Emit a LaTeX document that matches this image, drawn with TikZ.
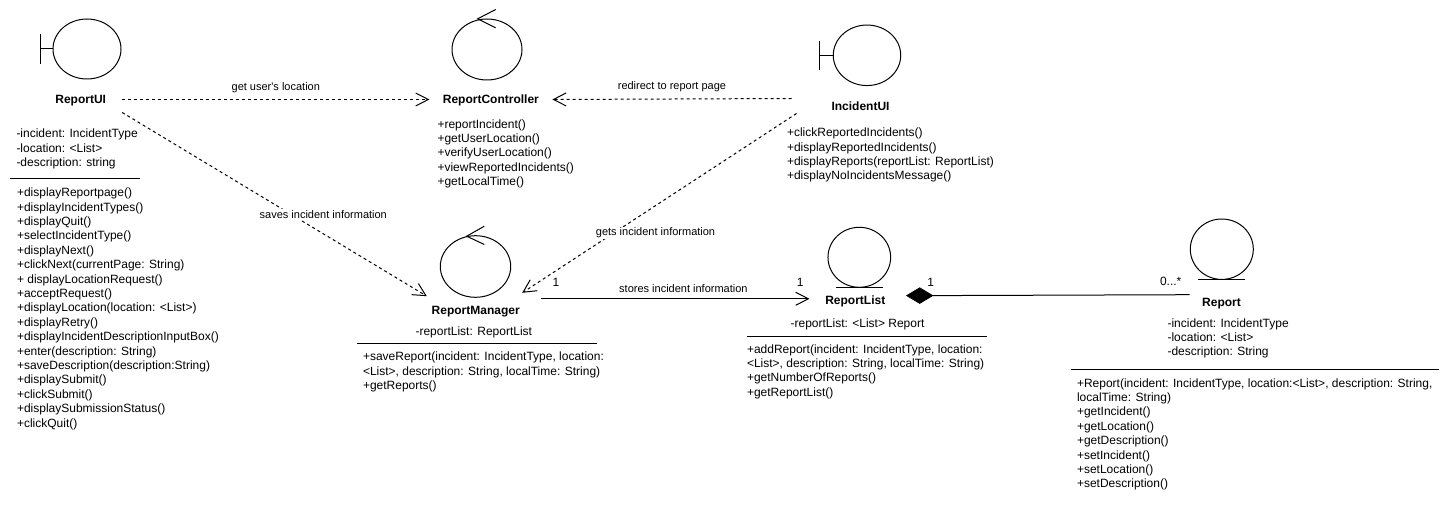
\documentclass[tikz,border=0pt]{standalone}
\usepackage{fontspec}
\setmainfont{Liberation Sans}[Ligatures=TeXOff]
\usetikzlibrary{arrows.meta}
\usetikzlibrary{shapes.geometric}

\begin{document}
\begin{tikzpicture}[
        x=0.75pt,
        y=-0.75pt,
        line width=0.75pt,
        >={Straight Barb[length=9.5pt,width=9.75pt]},
        icon/.style={draw,ellipse,inner sep=0pt},
        classname/.style={font=\fontsize{9}{10.8}\selectfont\bfseries,inner sep=0pt,text height=8pt,text depth=1.6pt},
        members/.style={font=\fontsize{9}{10.8}\selectfont,align=left,anchor=north west,inner sep=0pt},
        linklabel/.style={font=\fontsize{8.25}{10}\selectfont,inner sep=1pt},
        multiplicity/.style={font=\fontsize{9}{10.8}\selectfont,inner sep=0pt},
        dep/.style={->,dashed,dash pattern=on 2.25pt off 2.25pt}
    ]
    \useasboundingbox (0,0) rectangle (1451,513);

    % Nodes for the five classes on top
    \node[icon,minimum width=51pt,minimum height=45pt] (uiIcon) at (87,49) {};
    \node[classname,minimum width=61.5pt,minimum height=18.75pt] (ReportUI) at (80.7,99.5) {ReportUI};
    \node[icon,minimum width=52.5pt,minimum height=45.75pt] (ctrlIcon) at (487,49.5) {};
    \node[classname,minimum width=91.5pt] (ReportController) at (490.9,99.5) {ReportController};
    \node[icon,minimum width=50.6pt,minimum height=45.4pt] (incidentIcon) at (867,55.3) {};
    \node[classname,minimum width=102.75pt,minimum height=10.5pt] (IncidentUI) at (860.5,106) {IncidentUI};

    % Nodes for the classes below
    \node[icon,minimum width=52.8pt,minimum height=46.2pt] (mgrIcon) at (475.5,266.5) {};
    \node[classname,minimum width=97.5pt,minimum height=16.5pt] (ReportManager) at (475.7,310.3) {ReportManager};
    \node[icon,minimum width=47pt,minimum height=45pt] (listIcon) at (859.3,257.3) {};
    \node[classname,minimum width=68pt] (ReportList) at (855.3,300.7) {ReportList};
    \node[icon,minimum width=47.25pt,minimum height=45.3pt] (reportIcon) at (1221.8,249.2) {};
    \node[classname,minimum width=47.25pt,minimum height=11.25pt] (Report) at (1221.5,302.7) {Report};

    % Boundary marks
    \draw (uiIcon.west) -- ++(-12.5,0) ++(0,-15) -- ++(0,30);
    \draw (incidentIcon.west) -- ++(-12.9,0) ++(0,-14.7) -- ++(0,29.4);

    % Control marks
    \draw (ctrlIcon.north) ++(8.7,-9) -- ++(-18,9.3) -- ++(18,9);
    \draw (mgrIcon.north) ++(8.8,-9) -- ++(-17.6,10) -- ++(17.6,8.3);

    % Entity marks
    \draw (listIcon.south) ++(-23.3,0) -- ++(46.6,0);
    \draw (reportIcon.south) ++(-23.6,0) -- ++(47,0);

    % ReportUI members
    \node[members] (uiAttrs) at (16,128.5) {-incident: IncidentType\\-location: <List>\\-description: string};
    \draw (10.3,178.7) coordinate (uiRuleL) -- (140.3,178.7) coordinate (uiRuleR);
    \node[members] (uiOps) at (16.5,187.5) {+displayReportpage()\\+displayIncidentTypes()\\+displayQuit()\\+selectIncidentType()\\+displayNext()\\+clickNext(currentPage: String)\\+ displayLocationRequest()\\+acceptRequest()\\+displayLocation(location: <List>)\\+displayRetry()\\+displayIncidentDescriptionInputBox()\\+enter(description: String)\\+saveDescription(description:String)\\+displaySubmit()\\+clickSubmit()\\+displaySubmissionStatus()\\+clickQuit()};

    % ReportController and IncidentUI members
    \node[members] (ctrlOps) at (437,119) {+reportIncident()\\+getUserLocation()\\+verifyUserLocation()\\+viewReportedIncidents()\\+getLocalTime()};
    \node[members] (incidentOps) at (786.5,127.5) {+clickReportedIncidents()\\+displayReportedIncidents()\\+displayReports(reportList: ReportList)\\+displayNoIncidentsMessage()};

    % ReportManager members
    \node[font=\fontsize{9}{10.8}\selectfont,inner sep=0pt] (mgrAttrs) at (473.8,332) {-reportList: ReportList};
    \draw (356.7,343.3) coordinate (mgrRuleL) -- (597,343.3) coordinate (mgrRuleR);
    \node[members] (mgrOps) at (362.5,351.5) {+saveReport(incident: IncidentType, location:\\<List>, description: String, localTime: String)\\+getReports()};

    % ReportList members
    \node[font=\fontsize{9}{10.8}\selectfont,inner sep=0pt] (listAttrs) at (857.5,324) {-reportList: <List> Report};
    \draw (747.3,336) coordinate (listRuleL) -- (987.3,336) coordinate (listRuleR);
    \node[members] (listOps) at (746.5,344) {+addReport(incident: IncidentType, location:\\<List>, description: String, localTime: String)\\+getNumberOfReports()\\+getReportList()};

    % Report members
    \node[members] (reportAttrs) at (1167,318) {-incident: IncidentType\\-location: <List>\\-description: String};
    \draw (1070.7,369.3) coordinate (reportRuleL) -- (1439,369.3) coordinate (reportRuleR);
    \node[members] (reportOps) at (1076.5,378) {+Report(incident: IncidentType, location:<List>, description: String,\\localTime: String)\\+getIncident()\\+getLocation()\\+getDescription()\\+setIncident()\\+setLocation()\\+setDescription()};

    % Dashed links
    \draw[dep] (ReportUI.east) -- (ReportController.west)
        node[linklabel,pos=0.5,above=4pt] (lblLocation) {get user's location};
    \draw[dep] (IncidentUI.north west) -- (ReportController.east)
        node[linklabel,pos=0.5,above=4pt] (lblRedirect) {redirect to report page};
    \draw[dep] (ReportUI.south east) -- ([shift={(16.6,-2.6)}]ReportManager.north west);
    \draw[dep] ([xshift=3.75pt]IncidentUI.south west) -- ([shift={(-19,-6)}]ReportManager.north east);
    \node[linklabel,fill=white] (lblSaves) at (323.3,214.3) {saves incident information};
    \node[linklabel,fill=white] (lblGets) at (655.5,233) {gets incident information};

    % Solid link with its numbers
    \draw[->] (ReportManager.north east) -- (ReportList.west |- ReportManager.north east)
        node[linklabel,pos=0.53,above=3pt] (lblStores) {stores incident information};
    \node[multiplicity] (numMgr) at (556,282) {1};
    \node[multiplicity] (numList) at (800.3,282) {1};

    % Composition
    \node[draw,fill=black,diamond,aspect=1.66,inner sep=0pt,minimum width=19.5pt,minimum height=11.8pt] (whole) at (919.7,295.6) {};
    \draw (whole.east) -- (Report.north west);
    \node[multiplicity] (numWhole) at (930.7,282) {1};
    \node[multiplicity] (numPart) at (1170.7,281.7) {0...*};

\end{tikzpicture}
\end{document}
